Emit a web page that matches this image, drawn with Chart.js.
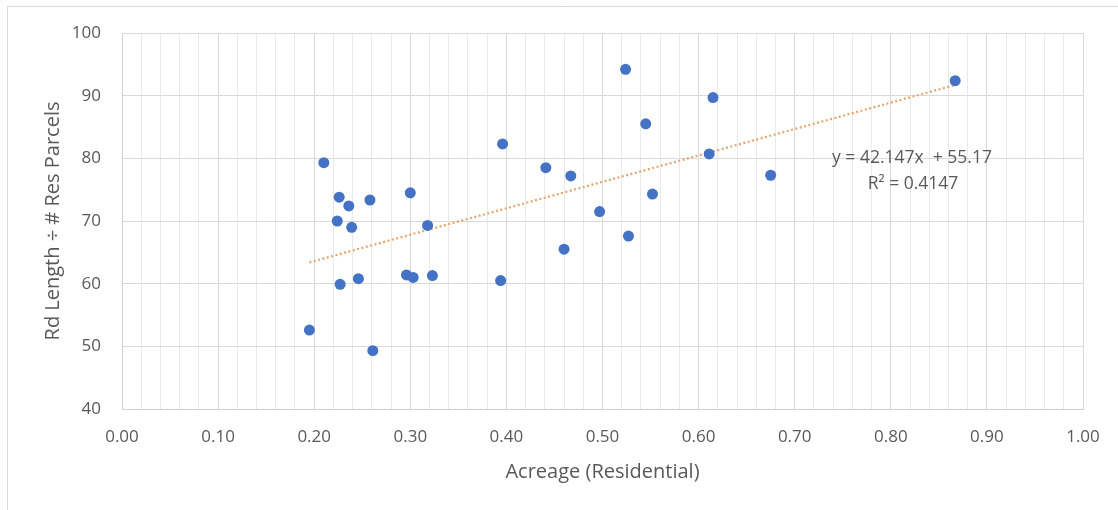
<!DOCTYPE html>
<html>
<head>
<meta charset="utf-8">
<script src="https://cdn.jsdelivr.net/npm/chart.js@4/dist/chart.umd.min.js"></script>
<style>
  html, body { margin: 0; padding: 0; background: #ffffff; }
  #wrap { width: 1118px; height: 510px; position: relative; }
</style>
</head>
<body>
<div id="wrap"><canvas id="chart" width="1118" height="510"></canvas></div>
<script>
// Acreage of residential land per road segment vs road length per residential parcel
const acreage = [0.195, 0.210, 0.226, 0.224, 0.236, 0.239, 0.258, 0.227, 0.246, 0.261,
                 0.300, 0.318, 0.296, 0.303, 0.323, 0.396, 0.394, 0.441, 0.467, 0.460,
                 0.524, 0.545, 0.615, 0.611, 0.675, 0.497, 0.552, 0.527, 0.867];
const rdPerParcel = [52.6, 79.3, 73.8, 70.0, 72.4, 69.0, 73.35, 59.9, 60.8, 49.3,
                     74.5, 69.3, 61.4, 61.0, 61.3, 82.3, 60.5, 78.5, 77.2, 65.5,
                     94.2, 85.5, 89.7, 80.7, 77.3, 71.5, 74.3, 67.6, 92.4];

// Linear trendline as reported in the equation label
const trendSlope = 42.147;
const trendIntercept = 55.17;
const trendR2 = 0.4147;

const xTitle = 'Acreage (Residential)';
const yTitle = 'Rd Length \u00f7 # Res Parcels';
const equationLines = ['y = ' + trendSlope + 'x  + ' + trendIntercept, 'R\u00b2 = ' + trendR2];

const points = acreage.map((x, i) => ({ x: x, y: rdPerParcel[i] }));
const xLo = Math.min(...acreage), xHi = Math.max(...acreage);
const trend = [xLo, xHi].map(x => ({ x: x, y: trendSlope * x + trendIntercept }));

const textColor = '#595959';
const fontFamily = "'Open Sans', 'Noto Sans', sans-serif";
const isMajor = v => Math.abs(v * 10 - Math.round(v * 10)) < 1e-6;

// thin outer frame of the chart object
const framePlugin = {
  id: 'frame',
  beforeDraw(chart) {
    const ctx = chart.ctx;
    ctx.save();
    ctx.strokeStyle = '#d9d9d9';
    ctx.lineWidth = 1;
    ctx.beginPath();
    ctx.moveTo(7.5, 510);
    ctx.lineTo(7.5, 6.5);
    ctx.lineTo(1118, 6.5);
    ctx.stroke();
    ctx.restore();
  }
};

// regression equation text beside the trendline
const equationPlugin = {
  id: 'equation',
  afterDraw(chart) {
    const ctx = chart.ctx;
    ctx.save();
    ctx.fillStyle = textColor;
    ctx.font = "17.5px " + fontFamily;
    ctx.textAlign = 'center';
    ctx.textBaseline = 'middle';
    ctx.fillText(equationLines[0], 912, 158);
    ctx.fillText(equationLines[1], 913, 184);
    ctx.restore();
  }
};

new Chart(document.getElementById('chart'), {
  type: 'scatter',
  data: {
    datasets: [
      {
        label: 'Rd Length per Res Parcel',
        data: points,
        backgroundColor: '#4472C4',
        borderColor: '#4472C4',
        pointRadius: 5.5,
        pointHoverRadius: 5.5,
        borderWidth: 0,
        order: 1
      },
      {
        label: 'Linear trend',
        type: 'line',
        data: trend,
        borderColor: '#E5A36E',
        borderWidth: 2.2,
        borderDash: [2, 2.5],
        pointRadius: 0,
        fill: false,
        order: 2
      }
    ]
  },
  options: {
    responsive: false,
    animation: false,
    events: [],
    layout: { padding: { top: 33, right: 35, left: 0, bottom: 0 } },
    plugins: { legend: { display: false }, tooltip: { enabled: false } },
    scales: {
      x: {
        type: 'linear',
        min: 0, max: 1,
        afterFit: s => { s.height = 101; },
        border: { color: '#d0d0d0', width: 1 },
        grid: {
          drawTicks: false,
          color: c => isMajor(c.tick.value) ? '#d9d9d9' : '#e9e9e9',
          lineWidth: 1
        },
        ticks: {
          stepSize: 0.02,
          autoSkip: false,
          maxRotation: 0,
          padding: 18,
          color: textColor,
          font: { family: fontFamily, size: 17 },
          callback: v => isMajor(v) ? v.toFixed(2) : ''
        },
        title: {
          display: true,
          text: xTitle,
          color: textColor,
          font: { family: fontFamily, size: 20 },
          padding: { top: 0, bottom: 26 }
        }
      },
      y: {
        type: 'linear',
        min: 40, max: 100,
        afterFit: s => { s.width = 122; },
        border: { color: '#d0d0d0', width: 1 },
        grid: { drawTicks: false, color: '#d9d9d9', lineWidth: 1 },
        ticks: {
          stepSize: 10,
          padding: 21,
          color: textColor,
          font: { family: fontFamily, size: 17 }
        },
        title: {
          display: true,
          text: yTitle,
          color: textColor,
          font: { family: fontFamily, size: 20 },
          padding: { top: 41, bottom: 0 }
        }
      }
    }
  },
  plugins: [framePlugin, equationPlugin]
});
</script>
</body>
</html>
